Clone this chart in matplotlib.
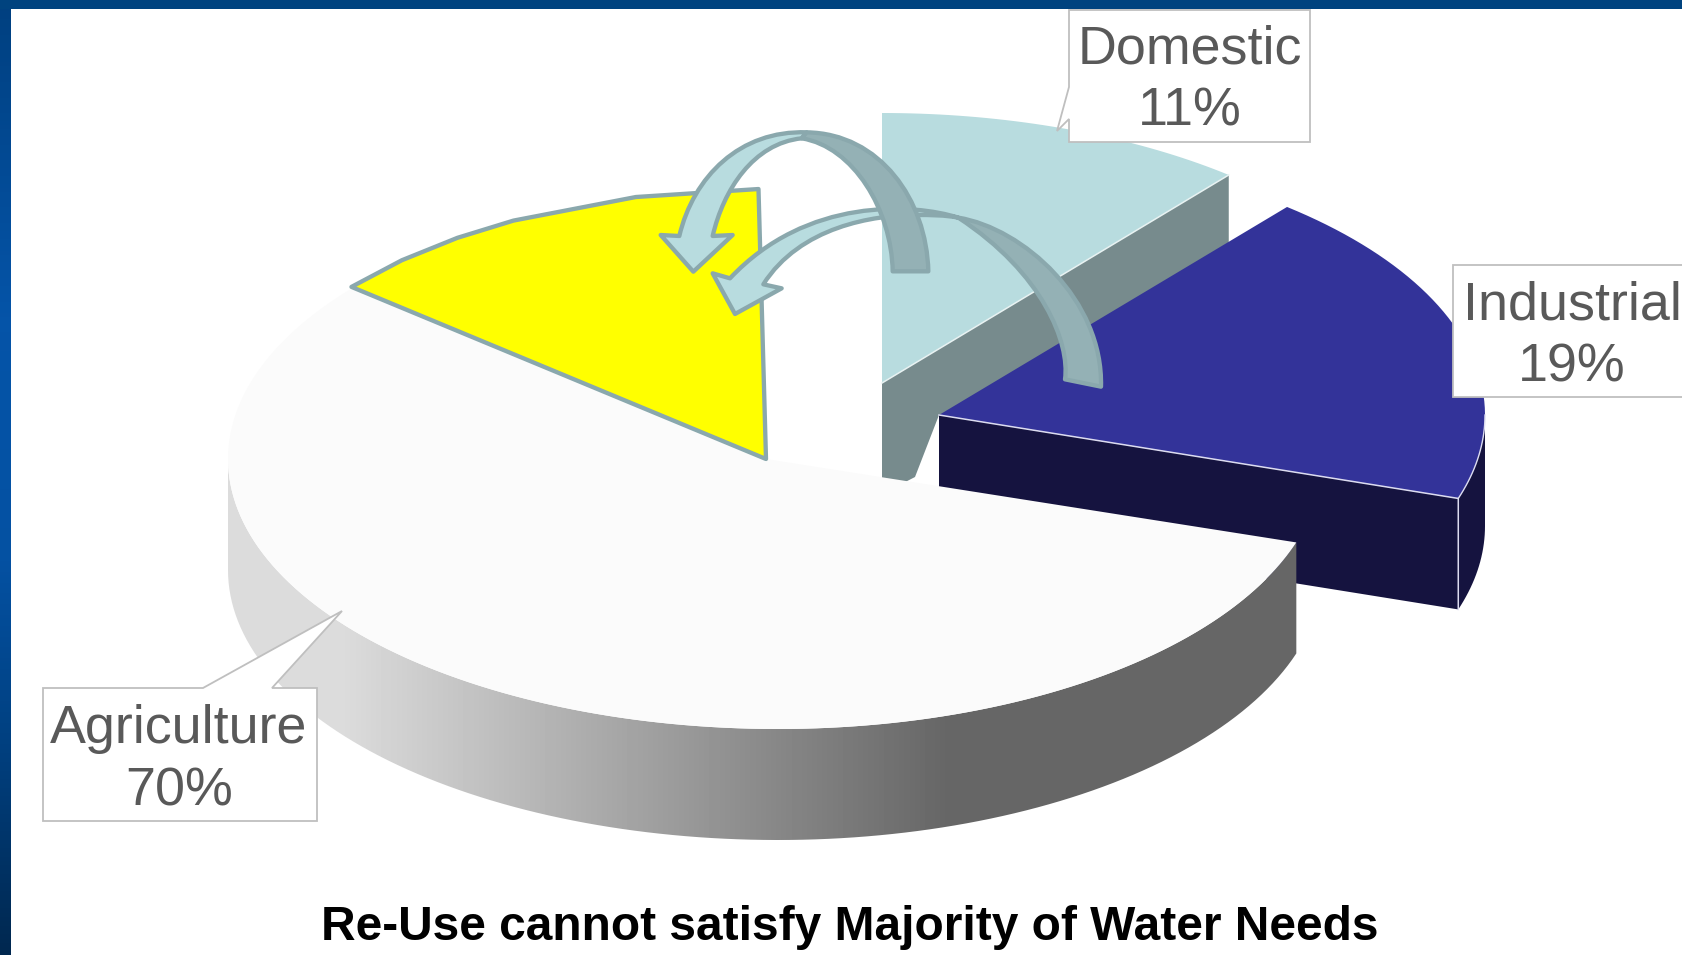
import numpy as np
import matplotlib
matplotlib.use('Agg')
from matplotlib import pyplot as plt
from matplotlib.patches import Polygon, PathPatch
from matplotlib.path import Path

categories = ['Agriculture', 'Industrial', 'Domestic']
shares = [70, 19, 11]
reuse_share = 14  # yellow part cut out of the agriculture slice
reuse_vertices = [90.8, 104, 118, 125, 132.6]  # hand drawn outline, angles
title = 'Re-Use cannot satisfy Majority of Water Needs'

plt.rcParams['font.family'] = ['Liberation Sans', 'DejaVu Sans']

W, H = 1683, 955
fig = plt.figure(figsize=(W / 100, H / 100), dpi=100)
ax = fig.add_axes([0, 0, 1, 1])

RY = 270
DEPTH = 111
EDGE = '#8aa8ad'
LIGHT = '#b8dcdf'
DARK = '#94b1b5'

# slice angles follow the shares, clockwise from 12 o'clock for domestic,
# agriculture runs counter clockwise from 90 deg
ag_end = 90 + shares[0] * 3.6
reuse_end = 90 + reuse_share * 3.6
dom_end = 90 - shares[2] * 3.6
ind_end = dom_end - shares[1] * 3.6


def rim(cx, cy, rx, deg, rx_right=None):
    t = np.radians(deg)
    c = np.cos(t)
    r = np.where(c > 0, rx if rx_right is None else rx_right, rx)
    return np.column_stack([cx + r * c, cy - RY * np.sin(t)])


def box_text(x, base1, base2, name, pct):
    ax.text(x, base1, name, ha='center', va='baseline', fontsize=38.8, color='#595959', zorder=21)
    ax.text(x, base2, '%d%%' % pct, ha='center', va='baseline', fontsize=38.8, color='#595959', zorder=21)


def curved(pts, codes, fc):
    ax.add_patch(PathPatch(Path(pts, codes), fc=fc, ec=EDGE, lw=3.1, joinstyle='round', zorder=10))


# frame
left = np.interp(np.arange(H), [0, 320, 560, 955], [0.0, 1.0, 0.85, -0.95])
ramp = np.array([[0.0, 0.25, 0.5], [0.02, 0.33, 0.66]])
col = np.array([np.interp(left, [-1, 0, 1], [v0, ramp[0][i], ramp[1][i]])
                for i, v0 in enumerate([0.0, 0.15, 0.30])]).T
ax.imshow(col[:, None, :], extent=[0, 11, H, 0], aspect='auto', zorder=30)
ax.fill_between([0, W], 0, 9, color='#00437f', lw=0, zorder=30)

# domestic, the side is cut short under the industrial slice
cx, cy, rx = 882, 383, 544
p = rim(cx, cy, rx, np.array([dom_end]))[0]
ax.add_patch(Polygon([(cx, cy), p, (p[0], p[1] + DEPTH), (939, 480), (939, 415), (915, 477), (cx, cy + DEPTH)],
                     fc='#778b8d', ec='none', zorder=2))
top = rim(cx, cy, rx, np.linspace(90, dom_end, 40))
ax.add_patch(Polygon(np.vstack([[(cx, cy)], top]), fc=LIGHT, ec='none', zorder=3))
ax.plot([cx, p[0]], [cy, p[1]], color='#e8f2f2', lw=1.1, zorder=3)

# industrial
cx, cy, rx = 939, 415, 546
p = rim(cx, cy, rx, np.array([ind_end]))[0]
ax.add_patch(Polygon([(cx, cy), p, (p[0], p[1] + DEPTH), (cx, cy + DEPTH)], fc='#15133f', ec='none', zorder=4))
out = rim(cx, cy, rx, np.linspace(ind_end, 0, 20))
ax.add_patch(Polygon(np.vstack([out, out[::-1] + [0, DEPTH]]), fc='#15133f', ec='none', zorder=4))
top = rim(cx, cy, rx, np.linspace(dom_end, ind_end, 50))
ax.add_patch(Polygon(np.vstack([[(cx, cy)], top]), fc='#333399', ec='none', zorder=5))
ax.plot([cx, p[0], p[0]], [cy, p[1], p[1] + DEPTH], color='#dcdcf0', lw=1.1, zorder=5)
ax.plot(out[:, 0], out[:, 1], color='#dcdcf0', lw=1.0, zorder=5)

# agriculture, side with a grey gradient then the top
# the rim ellipse sits a little right of the slice apex
ax_, cy, cx = 766, 459, 778
rx, rx_r = 550, 545
a = np.linspace(180, ag_end, 120)
edge = rim(cx, cy, rx, a, rx_r)
side = Polygon(np.vstack([edge, edge[::-1] + [0, DEPTH]]), fc='none', ec='none', transform=ax.transData)
ax.add_patch(side)
xs = np.arange(W)
grey = np.interp(xs, [0, 340, 948, W], [0.863, 0.863, 0.40, 0.40])
im = ax.imshow(grey[None, :], extent=[0, W, H, 0], aspect='auto', cmap='gray', vmin=0, vmax=1, zorder=6)
im.set_clip_path(side)
top = rim(cx, cy, rx, np.linspace(reuse_end, ag_end, 200), rx_r)
ax.add_patch(Polygon(np.vstack([[(ax_, cy)], top]), fc='#fbfbfb', ec='none', zorder=7))

# re-use part of agriculture
yel = rim(ax_, cy, 538, np.array(reuse_vertices + [reuse_end]))
ax.add_patch(Polygon(np.vstack([[(ax_, cy)], yel]), fc='#ffff00', ec=EDGE, lw=3.1, joinstyle='round', zorder=8))


def z(pts):
    return [(640 + x / 3, 100 + y / 3) for x, y in pts]


M, L, C, E = Path.MOVETO, Path.LINETO, Path.CURVE4, Path.CLOSEPOLY

# arrow industrial -> re-use
curved(z([(955, 353), (820, 310), (500, 290), (270, 535), (218, 520), (285, 642), (425, 565), (370, 553),
          (480, 380), (700, 345), (830, 345), (870, 345), (915, 345), (955, 353), (955, 353)]),
       [M, C, C, C, L, L, L, L, C, C, C, C, C, C, E], LIGHT)
curved(z([(955, 353), (1150, 385), (1390, 600), (1383, 860), (1275, 838),
          (1290, 730), (1210, 520), (955, 353), (955, 353)]),
       [M, C, C, C, L, C, C, C, E], DARK)

# arrow domestic -> re-use
curved(z([(500, 97), (300, 90), (160, 230), (118, 408), (62, 405), (160, 515), (278, 405), (218, 408),
          (250, 270), (340, 130), (485, 115), (500, 97)]),
       [M, C, C, C, L, L, L, L, C, C, C, E], LIGHT)
curved(z([(865, 514), (860, 300), (720, 100), (500, 97), (485, 115),
          (640, 140), (755, 330), (758, 514), (865, 514)]),
       [M, C, C, C, L, C, C, C, E], DARK)

# callouts
box = dict(fc='white', ec='#bfbfbf', lw=1.3, joinstyle='miter', zorder=20)
ax.add_patch(Polygon([(43, 688), (203, 688), (342, 611), (272, 688), (317, 688), (317, 821), (43, 821)], **box))
ax.add_patch(Polygon([(1069, 10), (1310, 10), (1310, 142), (1069, 142), (1069, 119), (1057, 131), (1069, 87)], **box))
ax.add_patch(Polygon([(1453, 265), (1690, 265), (1690, 397), (1453, 397)], **box))
box_text(179, 743, 805, categories[0], shares[0])
box_text(1572, 319, 381, categories[1], shares[1])
box_text(1190, 63, 126, categories[2], shares[2])

ax.text(850, 940, title, ha='center', va='baseline', fontsize=34.5, fontweight='bold', color='black', zorder=21)

ax.set_xlim(0, W)
ax.set_ylim(H, 0)
ax.axis('off')
fig.savefig('out.png', dpi=100, facecolor='white')
plt.close()
